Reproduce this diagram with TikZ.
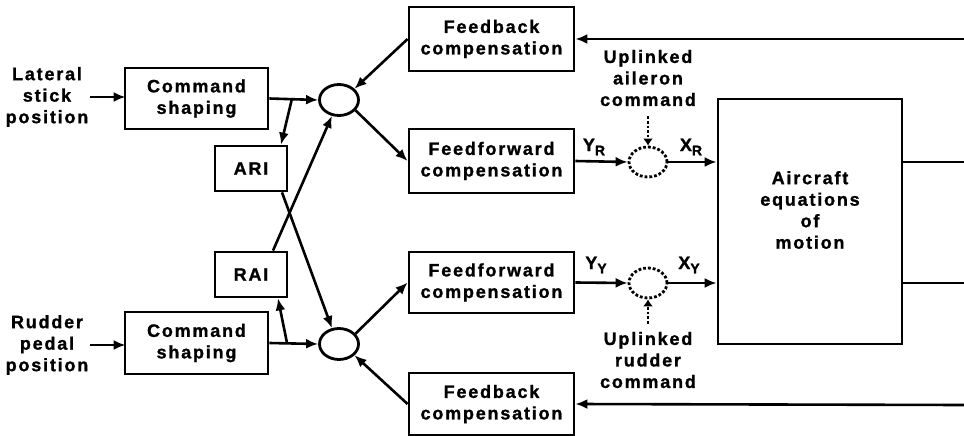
\documentclass[tikz,border=0pt]{standalone}
\usepackage{fontspec}
\setmainfont{Liberation Sans}[LetterSpace=10, BoldFeatures={FakeBold=1.2}]
\usetikzlibrary{arrows.meta,shapes.geometric}
\newcommand{\subl}[1]{\raisebox{-0.45ex}{\fontsize{14}{14}\selectfont #1}}
\begin{document}
\begin{tikzpicture}[x=1pt,y=-1pt,
  txt/.style={align=center, font=\bfseries\fontsize{18}{21.5}\selectfont, inner sep=0pt},
  blk/.style={txt, draw, line width=2.8pt},
  sumj/.style={draw, ellipse, line width=2.8pt, minimum width=39pt, minimum height=31pt, inner sep=0pt},
  dsum/.style={sumj, dotted},
  ln/.style={line width=2.6pt},
  arr/.style={line width=2.6pt, -{Latex[length=12pt,width=10pt]}},
  darr/.style={line width=2.6pt, dotted, -{Latex[length=7pt,width=10pt]}}]
\useasboundingbox (0,0) rectangle (964,436);

% blocks
\node[blk, minimum width=165pt, minimum height=64pt] (fbT) at (491.5,39) {Feedback\\compensation};
\node[blk, minimum width=165pt, minimum height=64pt] (ffT) at (491.5,161) {Feedforward\\compensation};
\node[blk, minimum width=165pt, minimum height=61pt] (ffB) at (491.5,282.5) {Feedforward\\compensation};
\node[blk, minimum width=165pt, minimum height=62pt] (fbB) at (491.5,404) {Feedback\\compensation};
\node[blk, minimum width=143pt, minimum height=61pt] (csT) at (196.5,98.5) {Command\\shaping};
\node[blk, minimum width=143pt, minimum height=62pt] (csB) at (196.5,343) {Command\\shaping};
\node[blk, minimum width=72pt, minimum height=45pt] (ari) at (251,168.5) {ARI};
\node[blk, minimum width=72pt, minimum height=45pt] (rai) at (251,274.5) {RAI};
\node[blk, minimum width=184pt, minimum height=245pt] (ac) at (810,221.5) {};
\node[txt] (actext) at (810,210) {Aircraft\\equations\\of\\motion};

% summing junctions
\node[sumj] (sT) at (339,100) {};
\node[sumj] (sB) at (339,344) {};
\node[dsum, minimum width=38pt, minimum height=30pt] (dT) at (648,162) {};
\node[dsum, minimum width=38pt, minimum height=30pt] (dB) at (648,283) {};

% input labels
\node[txt] (latT) at (47,97) {Lateral\\stick\\position};
\node[txt] (rudT) at (47,345) {Rudder\\pedal\\position};
\node[txt] (upA) at (648,78) {Uplinked\\aileron\\command};
\node[txt] (upB) at (648,360) {Uplinked\\rudder\\command};

% signal labels
\node[txt] (yr) at (594,147) {Y\subl{R}};
\node[txt] (xr) at (691,147) {X\subl{R}};
\node[txt] (yy) at (596,265) {Y\subl{Y}};
\node[txt] (xy) at (689,265) {X\subl{Y}};

% right edge coordinates
\coordinate (rT) at (964,39);
\coordinate (oT) at (964,162);
\coordinate (oB) at (964,283);
\coordinate (rB) at (964,405);
\coordinate (bT) at (292,98.5);
\coordinate (bB) at (287,343);

% connectors: inputs
\draw[arr] ([xshift=2pt]latT.east) -- ([xshift=2pt]latT.east -| csT.west);
\draw[arr] ([xshift=2pt]rudT.east) -- ([xshift=2pt]rudT.east -| csB.west);
\draw[arr] (csT.east) -- (sT.west);
\draw[arr] (csB.east) -- (sB.west);
\draw[arr] (bT) -- ([xshift=30pt]ari.north);
\draw[arr] (bB) -- ([xshift=27pt]rai.south);
\draw[arr] ([xshift=31pt]ari.south) -- (sB.114);
\draw[arr] ([xshift=22pt]rai.north) -- (sT.246);

% junction outputs / feedback
\draw[arr] (sT.-32) -- (ffT.west);
\draw[arr] (sB.32) -- (ffB.west);
\draw[arr] (fbT.west) -- (sT.36);
\draw[arr] (fbB.west) -- (sB.-36);

% right side
\draw[arr] (ffT.east) -- (dT.west);
\draw[arr] (ffB.east) -- (dB.west);
\draw[arr] (dT.east) -- (dT.east -| ac.west);
\draw[arr] (dB.east) -- (dB.east -| ac.west);
\draw[ln, line width=2pt] (oT -| ac.east) -- (oT);
\draw[ln, line width=2pt] (oB -| ac.east) -- (oB);
\draw[arr] (rT) -- (fbT.east);
\draw[arr] (rB) -- (fbB.east);

% uplinks
\draw[darr] ([yshift=-10pt]upA.south) -- (dT.north);
\draw[darr] ([yshift=8pt]upB.north) -- (dB.south);
\end{tikzpicture}
\end{document}
